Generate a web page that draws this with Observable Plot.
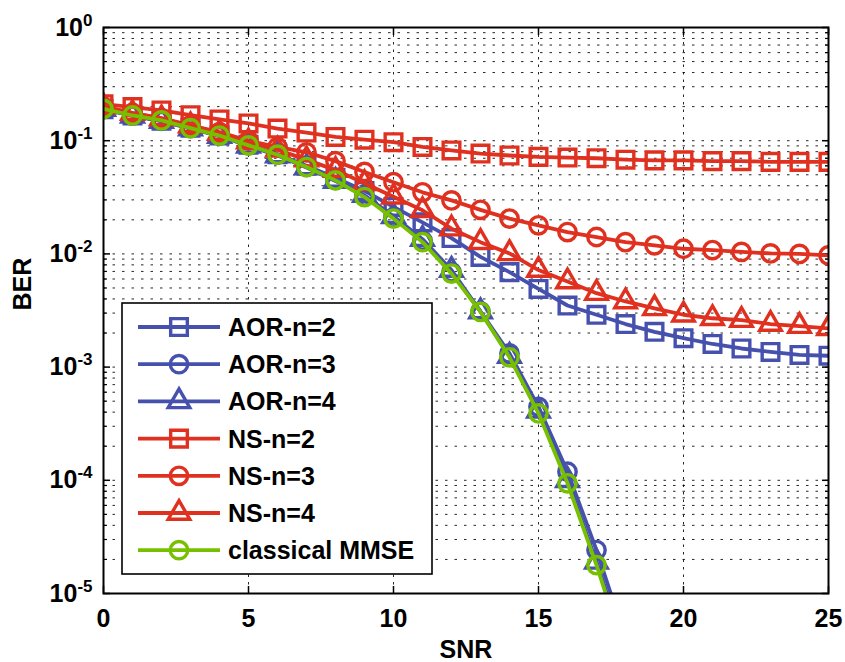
<!DOCTYPE html>
<html><head><meta charset="utf-8">
<script src="https://cdn.jsdelivr.net/npm/d3@7"></script>
<script src="https://cdn.jsdelivr.net/npm/@observablehq/plot@0.6"></script>
<style>
body{margin:0;background:#fff;}
#chart svg{display:block;}
</style></head><body><div id="chart"></div>
<script>
// ---- data ----
const snr = [0,1,2,3,4,5,6,7,8,9,10,11,12,13,14,15,16,17,18,19,20,21,22,23,24,25];
const aorN2 = [0.19,0.167,0.15,0.13,0.111,0.092,0.076,0.06,0.047,0.036,0.026,0.019,0.0138,0.0094,0.0069,0.0049,0.0035,0.0029,0.0024,0.00205,0.0018,0.0016,0.00146,0.00136,0.00128,0.00126];
const aorN3 = [0.19,0.167,0.15,0.129,0.111,0.091,0.0755,0.0588,0.045,0.0322,0.021,0.0131,0.0069,0.0031,0.00132,0.000446,0.000119,0.0000242,0.000004];
const aorN4 = [0.19,0.166,0.149,0.128,0.11,0.09,0.074,0.058,0.044,0.033,0.0215,0.0135,0.0072,0.0031,0.00125,0.00041,0.0001,0.000019,0.0000032];
const nsN2 = [0.21,0.198,0.185,0.168,0.154,0.142,0.128,0.118,0.108,0.102,0.097,0.088,0.082,0.077,0.074,0.072,0.071,0.07,0.068,0.067,0.067,0.066,0.066,0.065,0.065,0.065];
const nsN3 = [0.2,0.176,0.158,0.137,0.119,0.1,0.088,0.079,0.066,0.053,0.043,0.035,0.0297,0.0245,0.0205,0.0179,0.0156,0.0141,0.0127,0.0119,0.0111,0.0108,0.0104,0.0101,0.01,0.0097];
const nsN4 = [0.2,0.175,0.157,0.136,0.117,0.098,0.083,0.068,0.055,0.042,0.032,0.0243,0.0167,0.0127,0.0101,0.0072,0.0057,0.0045,0.0038,0.0033,0.0029,0.0027,0.0026,0.0024,0.0023,0.0022];
const mmse = [0.191,0.167,0.151,0.129,0.111,0.091,0.0752,0.0585,0.0446,0.0318,0.0205,0.0127,0.0067,0.00307,0.00122,0.00039,0.000094,0.0000178,0.0000029];

const seriesNames = ["AOR-n=2","AOR-n=3","AOR-n=4","NS-n=2","NS-n=3","NS-n=4","classical MMSE"];
const xTicks = [0,5,10,15,20,25];
const yTicks = [1e-5,1e-4,1e-3,1e-2,1e-1,1];
const minorMultipliers = [2,3,4,5,6,7,8,9];
const xLabel = "SNR";
const yLabel = "BER";

// ---- styles ----
const BLUE = "#4651ae", RED = "#e03120", GREEN = "#76c000";
const styles = [
  {color: BLUE, symbol: "square"},
  {color: BLUE, symbol: "circle"},
  {color: BLUE, symbol: "triangle"},
  {color: RED, symbol: "square"},
  {color: RED, symbol: "circle"},
  {color: RED, symbol: "triangle"},
  {color: GREEN, symbol: "circle"}
];
const symbolR = {square: 9.4, circle: 8.7, triangle: 8};
const valuesList = [aorN2, aorN3, aorN4, nsN2, nsN3, nsN4, mmse];

const series = seriesNames.map((name, i) => ({
  name, ...styles[i],
  rows: valuesList[i].map((v, j) => ({snr: snr[j], ber: v, series: name}))
}));

const yMinor = yTicks.slice(0, -1).flatMap(d => minorMultipliers.map(k => k * d));
const FONT = "Liberation Sans, Arial, Helvetica, sans-serif";

const dataMarks = series.flatMap(s => [
  Plot.line(s.rows, {x: "snr", y: "ber", stroke: s.color, strokeWidth: 3.8, clip: true}),
  Plot.dot(s.rows, {x: "snr", y: "ber", symbol: s.symbol, r: symbolR[s.symbol], stroke: s.color, strokeWidth: 3.4, fill: "none", clip: true})
]);

const symbolTypes = {square: d3.symbolSquare, circle: d3.symbolCircle, triangle: d3.symbolTriangle};

function legendMark(index, scales, values, dims) {
  const g = d3.create("svg:g");
  const left = dims.marginLeft + 19, top = dims.marginTop + 276;
  const w = 310, rowH = 37.2, h = 271;
  g.append("rect").attr("x", left).attr("y", top).attr("width", w).attr("height", h)
    .attr("fill", "white").attr("stroke", "black").attr("stroke-width", 1.6);
  series.forEach((s, i) => {
    const cy = top + 24 + i * rowH;
    g.append("line").attr("x1", left + 16).attr("x2", left + 98).attr("y1", cy).attr("y2", cy)
      .attr("stroke", s.color).attr("stroke-width", 3.8);
    const r = symbolR[s.symbol];
    g.append("path").attr("d", d3.symbol(symbolTypes[s.symbol], Math.PI * r * r)())
      .attr("transform", `translate(${left + 57},${cy})`)
      .attr("fill", "none").attr("stroke", s.color).attr("stroke-width", 3.4);
    g.append("text").attr("x", left + 106).attr("y", cy).attr("dy", "0.36em")
      .attr("text-anchor", "start")
      .attr("font-family", FONT).attr("font-weight", "bold").attr("font-size", 25)
      .attr("fill", "black").text(s.name);
  });
  return g.node();
}

const gridStyle = {stroke: "#000", strokeWidth: 1, strokeOpacity: 0.85};

const chart = Plot.plot({
  width: 845, height: 662,
  marginLeft: 103, marginRight: 17, marginTop: 27, marginBottom: 69,
  style: {fontFamily: FONT, background: "white", color: "black"},
  x: {domain: [0, 25]},
  y: {type: "log", domain: [1e-5, 1]},
  marks: [
    Plot.ruleY(yMinor, {...gridStyle, strokeDasharray: "2.5,7"}),
    Plot.ruleY(yTicks.slice(1, -1), {...gridStyle, strokeDasharray: "2.5,7"}),
    Plot.ruleX(xTicks.slice(1, -1), {...gridStyle, strokeDasharray: "2.5,5"}),
    Plot.axisX({anchor: "bottom", ticks: xTicks, tickSize: -7, tickPadding: 23, label: null, fontSize: 25, fontWeight: "bold", strokeWidth: 1.5}),
    Plot.axisX({anchor: "top", ticks: xTicks, tickSize: -7, tickFormat: () => "", label: null, strokeWidth: 1.5}),
    Plot.axisY({anchor: "left", ticks: yTicks, tickSize: -7, tickPadding: 18, label: null, fontSize: 25, fontWeight: "bold", strokeWidth: 1.5,
      tickFormat: d => String(Math.round(Math.log10(d)))}),
    Plot.axisY({anchor: "left", ticks: yMinor, tickSize: -4, tickFormat: () => "", label: null, strokeWidth: 1.2}),
    Plot.axisY({anchor: "right", ticks: yTicks, tickSize: -7, tickFormat: () => "", label: null, strokeWidth: 1.5}),
    Plot.axisY({anchor: "right", ticks: yMinor, tickSize: -4, tickFormat: () => "", label: null, strokeWidth: 1.2}),
    ...dataMarks,
    Plot.frame({stroke: "black", strokeWidth: 2}),
    legendMark,
    Plot.text([xLabel], {frameAnchor: "bottom", dy: 64, fontSize: 25, fontWeight: "bold", fill: "black"}),
    Plot.text([yLabel], {frameAnchor: "left", dx: -81, rotate: -90, fontSize: 25, fontWeight: "bold", fill: "black"})
  ]
});

// superscript exponents on y tick labels: 10^e
chart.querySelectorAll('g[aria-label="y-axis tick label"] text').forEach(t => {
  const e = t.textContent;
  if (e === "") return;
  t.textContent = "";
  const ns = "http://www.w3.org/2000/svg";
  const base = document.createElementNS(ns, "tspan");
  base.textContent = "10";
  const sup = document.createElementNS(ns, "tspan");
  sup.setAttribute("dy", "-10");
  sup.setAttribute("font-size", "17");
  sup.textContent = e;
  t.appendChild(base); t.appendChild(sup);
});

document.getElementById("chart").appendChild(chart);
</script>
</body></html>
